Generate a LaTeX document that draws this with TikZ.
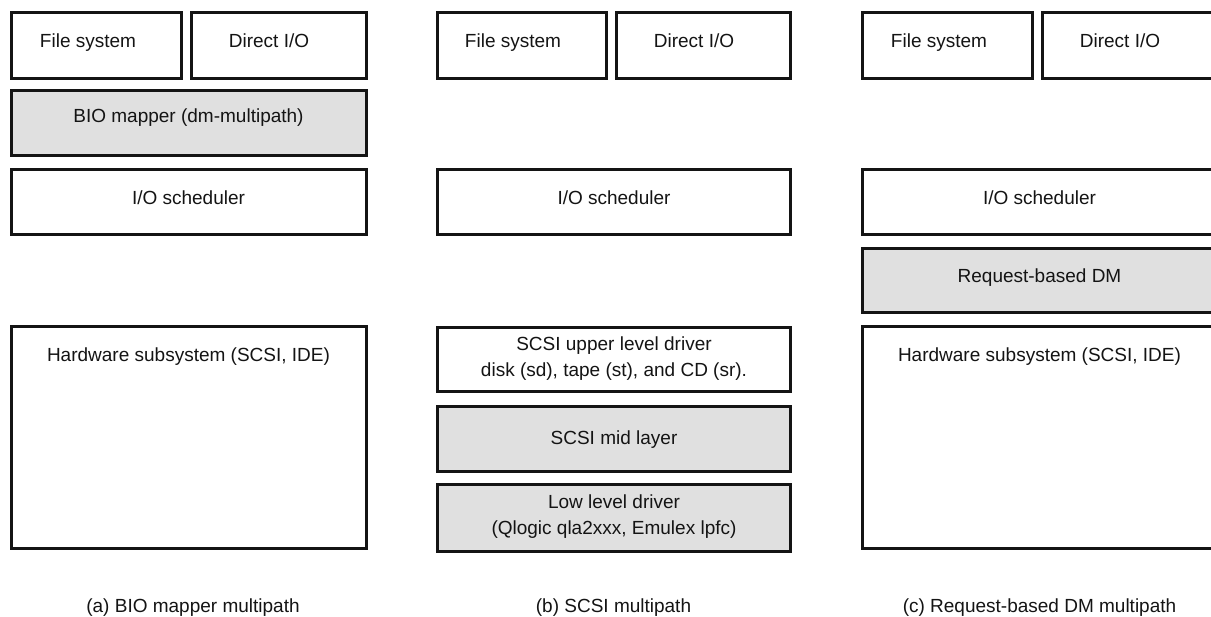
\documentclass[tikz,border=0pt]{standalone}
\usepackage{fontspec}
\setmainfont{Liberation Sans}
\definecolor{boxgray}{RGB}{224,224,224}
\definecolor{inkc}{RGB}{20,20,20}
\tikzset{
  layer/.style={draw=inkc, line width=2.6pt, rectangle, anchor=north west, inner sep=0pt, outer sep=0pt},
  graylayer/.style={layer, fill=boxgray},
  whitelayer/.style={layer, fill=white},
  lbl/.style={anchor=base, inner sep=0pt, text=inkc, font=\fontsize{19}{23}\selectfont},
}
\newcommand{\lay}[6]{% name, style, x1, y1, x2, y2 (outer edges)
  \path (#3+1.3,#4+1.3) coordinate (#1-nw);
  \node[#2, minimum width={#5-#3-2.6}, minimum height={#6-#4-2.6}] (#1) at (#1-nw) {};
}
\begin{document}
\begin{tikzpicture}[x=1pt,y=-1pt]
\useasboundingbox (0,0) rectangle (1211,617);
\clip (0,0) rectangle (1211,617);
\fill[white] (0,0) rectangle (1211,617);

% ---------- column (a) ----------
\lay{afs}{whitelayer}{10}{11}{183}{80}
\lay{adio}{whitelayer}{190}{11}{368}{80}
\lay{abio}{graylayer}{10}{89}{368}{157}
\lay{aios}{whitelayer}{10}{168}{368}{236}
\lay{ahw}{whitelayer}{10}{325}{368}{550}
\node[lbl] (afs-t) at (88,48) {File system};
\node[lbl] (adio-t) at (269,48) {Direct I/O};
\node[lbl] (abio-t) at (188.5,123) {BIO mapper (dm-multipath)};
\node[lbl] (aios-t) at (188.5,205) {I/O scheduler};
\node[lbl] (ahw-t) at (188.5,362) {Hardware subsystem (SCSI, IDE)};
\node[lbl] (acap) at (193,612) {(a) BIO mapper multipath};

% ---------- column (b) ----------
\lay{bfs}{whitelayer}{436}{11}{608}{80}
\lay{bdio}{whitelayer}{615}{11}{792}{80}
\lay{bios}{whitelayer}{436}{168}{792}{236}
\lay{bup}{whitelayer}{436}{326}{792}{393}
\lay{bmid}{graylayer}{436}{405}{792}{473}
\lay{blow}{graylayer}{436}{483}{792}{553}
\node[lbl] (bfs-t) at (513,48) {File system};
\node[lbl] (bdio-t) at (694,48) {Direct I/O};
\node[lbl] (bios-t) at (614,205) {I/O scheduler};
\node[lbl] (bup-t1) at (614,351) {SCSI upper level driver};
\node[lbl] (bup-t2) at (614,377) {disk (sd), tape (st), and CD (sr).};
\node[lbl] (bmid-t) at (614,445) {SCSI mid layer};
\node[lbl] (blow-t1) at (614,509) {Low level driver};
\node[lbl] (blow-t2) at (614,535) {(Qlogic qla2xxx, Emulex lpfc)};
\node[lbl] (bcap) at (613.5,612) {(b) SCSI multipath};

% ---------- column (c) ----------
\lay{cfs}{whitelayer}{861}{11}{1034}{80}
\lay{cdio}{whitelayer}{1041}{11}{1218}{80}
\lay{cios}{whitelayer}{861}{168}{1218}{236}
\lay{crq}{graylayer}{861}{247}{1218}{314}
\lay{chw}{whitelayer}{861}{325}{1218}{550}
\node[lbl] (cfs-t) at (939,48) {File system};
\node[lbl] (cdio-t) at (1120,48) {Direct I/O};
\node[lbl] (cios-t) at (1039.5,205) {I/O scheduler};
\node[lbl] (crq-t) at (1039.5,283) {Request-based DM};
\node[lbl] (chw-t) at (1039.5,362) {Hardware subsystem (SCSI, IDE)};
\node[lbl] (ccap) at (1039.5,612) {(c) Request-based DM multipath};
\end{tikzpicture}
\end{document}
